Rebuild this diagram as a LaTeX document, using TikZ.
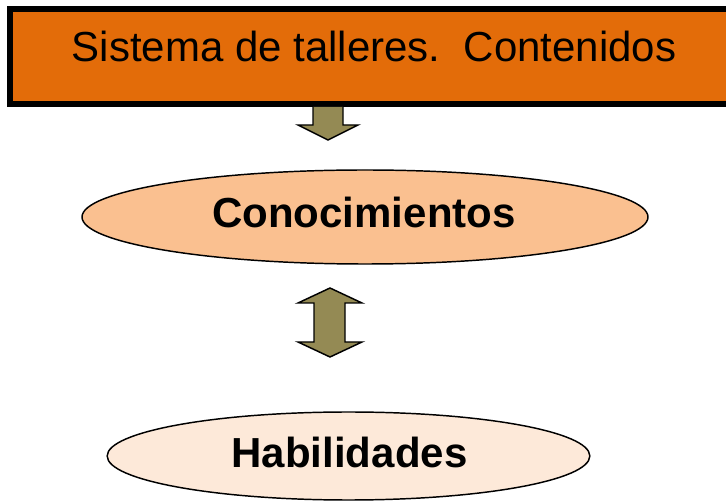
\documentclass[tikz,border=0pt]{standalone}
\usepackage{fontspec}
\setmainfont{Liberation Sans}
\usetikzlibrary{shapes.geometric}
\definecolor{tallerorange}{HTML}{E36C09}
\definecolor{conopeach}{HTML}{FAC090}
\definecolor{habipeach}{HTML}{FDE9D9}
\definecolor{arrowolive}{HTML}{948A54}
\tikzset{
    blockarrow/.style = {fill = arrowolive, draw = black, line width = 1.1pt, line join = miter},
    oval/.style = {ellipse, draw = black, line width = 1.1pt, inner sep = 0pt},
    ovaltext/.style = {anchor = base, font = \fontsize{31.5}{36}\selectfont\bfseries}
}
\begin{document}
\begin{tikzpicture}[x = 0.75pt, y = -0.75pt]
        \useasboundingbox (0, 0) rectangle (726, 502);
        % title box
        \draw[fill = tallerorange, line width = 4pt] (10, 9) rectangle (745, 104);
        \node[anchor = base, font = \fontsize{31.5}{36}\selectfont] (titulo) at (374, 62) {Sistema de talleres.\ \ Contenidos};
        % ovals
        \node[oval, fill = conopeach, minimum width = 424.5pt, minimum height = 70.5pt] (cono) at (365, 217) {};
        \node[ovaltext] (conotxt) at (364, 228) {Conocimientos};
        \node[oval, fill = habipeach, minimum width = 362pt, minimum height = 66pt] (habi) at (348.5, 456) {};
        \node[ovaltext] (habitxt) at (349.5, 468) {Habilidades};
        % arrows
        \draw[blockarrow] (313, 107) -- (313, 125) -- (298, 125) -- (328, 140) -- (358, 125) -- (343, 125) -- (343, 107);
        \draw[blockarrow] (330, 288) -- (362, 303) -- (345, 303) -- (345, 342) -- (362, 342) -- (330, 357)
            -- (298, 342) -- (314, 342) -- (314, 303) -- (298, 303) -- cycle;
    \end{tikzpicture}
\end{document}
